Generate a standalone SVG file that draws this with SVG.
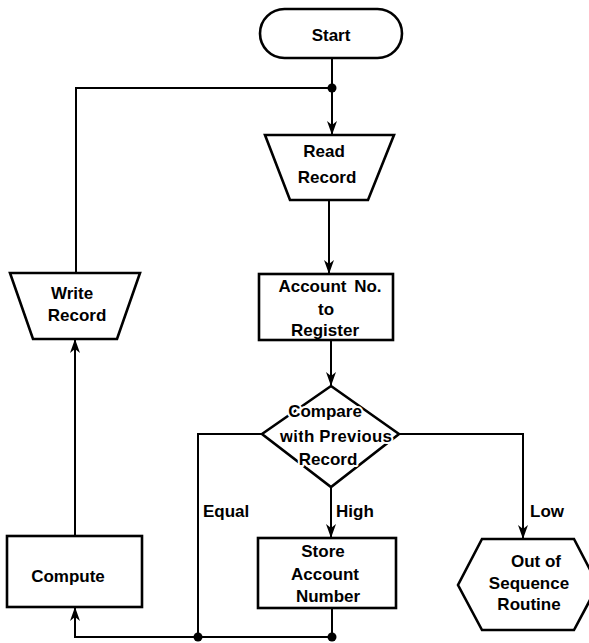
<svg xmlns="http://www.w3.org/2000/svg" width="589" height="643" viewBox="0 0 589 643">
  <style>
    .shape { fill: #ffffff; stroke: #000000; stroke-width: 2.6; stroke-linejoin: miter; }
    .flow { fill: none; stroke: #000000; stroke-width: 2; }
    .dot { fill: #000000; }
    .label { font-family: "Liberation Sans", Arial, sans-serif; font-weight: bold; font-size: 17px; fill: #000000; text-anchor: middle; }
    .halo { stroke: #ffffff; stroke-width: 4; paint-order: stroke; stroke-linejoin: round; }
    .branch { font-family: "Liberation Sans", Arial, sans-serif; font-weight: bold; font-size: 17px; fill: #000000; }
  </style>
  <defs>
    <marker id="arrow" viewBox="0 0 14 10" refX="14" refY="5" markerWidth="14" markerHeight="10" markerUnits="userSpaceOnUse" orient="auto">
      <path d="M0,0 L14,5 L0,10 L4,5 Z" fill="#000000"/>
    </marker>
  </defs>

  <rect width="589" height="643" fill="#ffffff"/>

  <!-- connectors -->
  <g id="connectors">
    <line class="flow" x1="332" y1="58" x2="332" y2="135" marker-end="url(#arrow)"/>
    <polyline class="flow" points="76,273 76,88 332,88"/>
    <line class="flow" x1="329" y1="200" x2="329" y2="274" marker-end="url(#arrow)"/>
    <line class="flow" x1="331" y1="340" x2="331" y2="386" marker-end="url(#arrow)"/>
    <polyline class="flow" points="262,434 198,434 198,637"/>
    <line class="flow" x1="331" y1="487" x2="331" y2="538" marker-end="url(#arrow)"/>
    <polyline class="flow" points="399,434 523,434 523,539" marker-end="url(#arrow)"/>
    <line class="flow" x1="332" y1="608" x2="332" y2="637"/>
    <polyline class="flow" points="332,637 75,637 75,607" marker-end="url(#arrow)"/>
    <line class="flow" x1="75" y1="536" x2="75" y2="339" marker-end="url(#arrow)"/>
    <circle class="dot" cx="332" cy="88" r="4.5"/>
    <circle class="dot" cx="198" cy="637" r="4.5"/>
    <circle class="dot" cx="332" cy="637" r="4.5"/>
    <text class="branch" x="203" y="517">Equal</text>
    <text class="branch" x="336" y="517">High</text>
    <text class="branch" x="530" y="517">Low</text>
  </g>

  <g id="start">
    <rect class="shape" x="260" y="9" width="142" height="49" rx="24.5" ry="24.5"/>
    <text class="label" x="331" y="41">Start</text>
  </g>

  <g id="read-record">
    <polygon class="shape" points="265,135 394,135 368,200 290,200"/>
    <text class="label" x="324" y="157">Read</text>
    <text class="label" x="327" y="183">Record</text>
  </g>

  <g id="account-to-register">
    <rect class="shape" x="259" y="274" width="134" height="66"/>
    <text class="label" x="330" y="292" word-spacing="3">Account No.</text>
    <text class="label" x="326" y="315">to</text>
    <text class="label" x="325" y="336">Register</text>
  </g>

  <g id="compare">
    <polygon class="shape" points="331,386 399,434 331,487 262,434"/>
    <text class="label halo" x="325" y="417">Compare</text>
    <text class="label halo" x="336" y="442" textLength="112" lengthAdjust="spacing">with Previous</text>
    <text class="label halo" x="328" y="465">Record</text>
  </g>

  <g id="write-record">
    <polygon class="shape" points="10,273 140,273 117,339 33,339"/>
    <text class="label" x="72" y="299">Write</text>
    <text class="label" x="77" y="321">Record</text>
  </g>

  <g id="compute">
    <rect class="shape" x="7" y="536" width="135" height="71"/>
    <text class="label" x="68" y="582">Compute</text>
  </g>

  <g id="store-account-number">
    <rect class="shape" x="258" y="538" width="138" height="70"/>
    <text class="label" x="323" y="557">Store</text>
    <text class="label" x="325" y="580">Account</text>
    <text class="label" x="328" y="602">Number</text>
  </g>

  <g id="out-of-sequence">
    <polygon class="shape" points="482,539 574,539 598,585 574,630 482,630 458,585"/>
    <text class="label" x="536" y="567">Out of</text>
    <text class="label" x="529" y="589">Sequence</text>
    <text class="label" x="529" y="610">Routine</text>
  </g>
</svg>
